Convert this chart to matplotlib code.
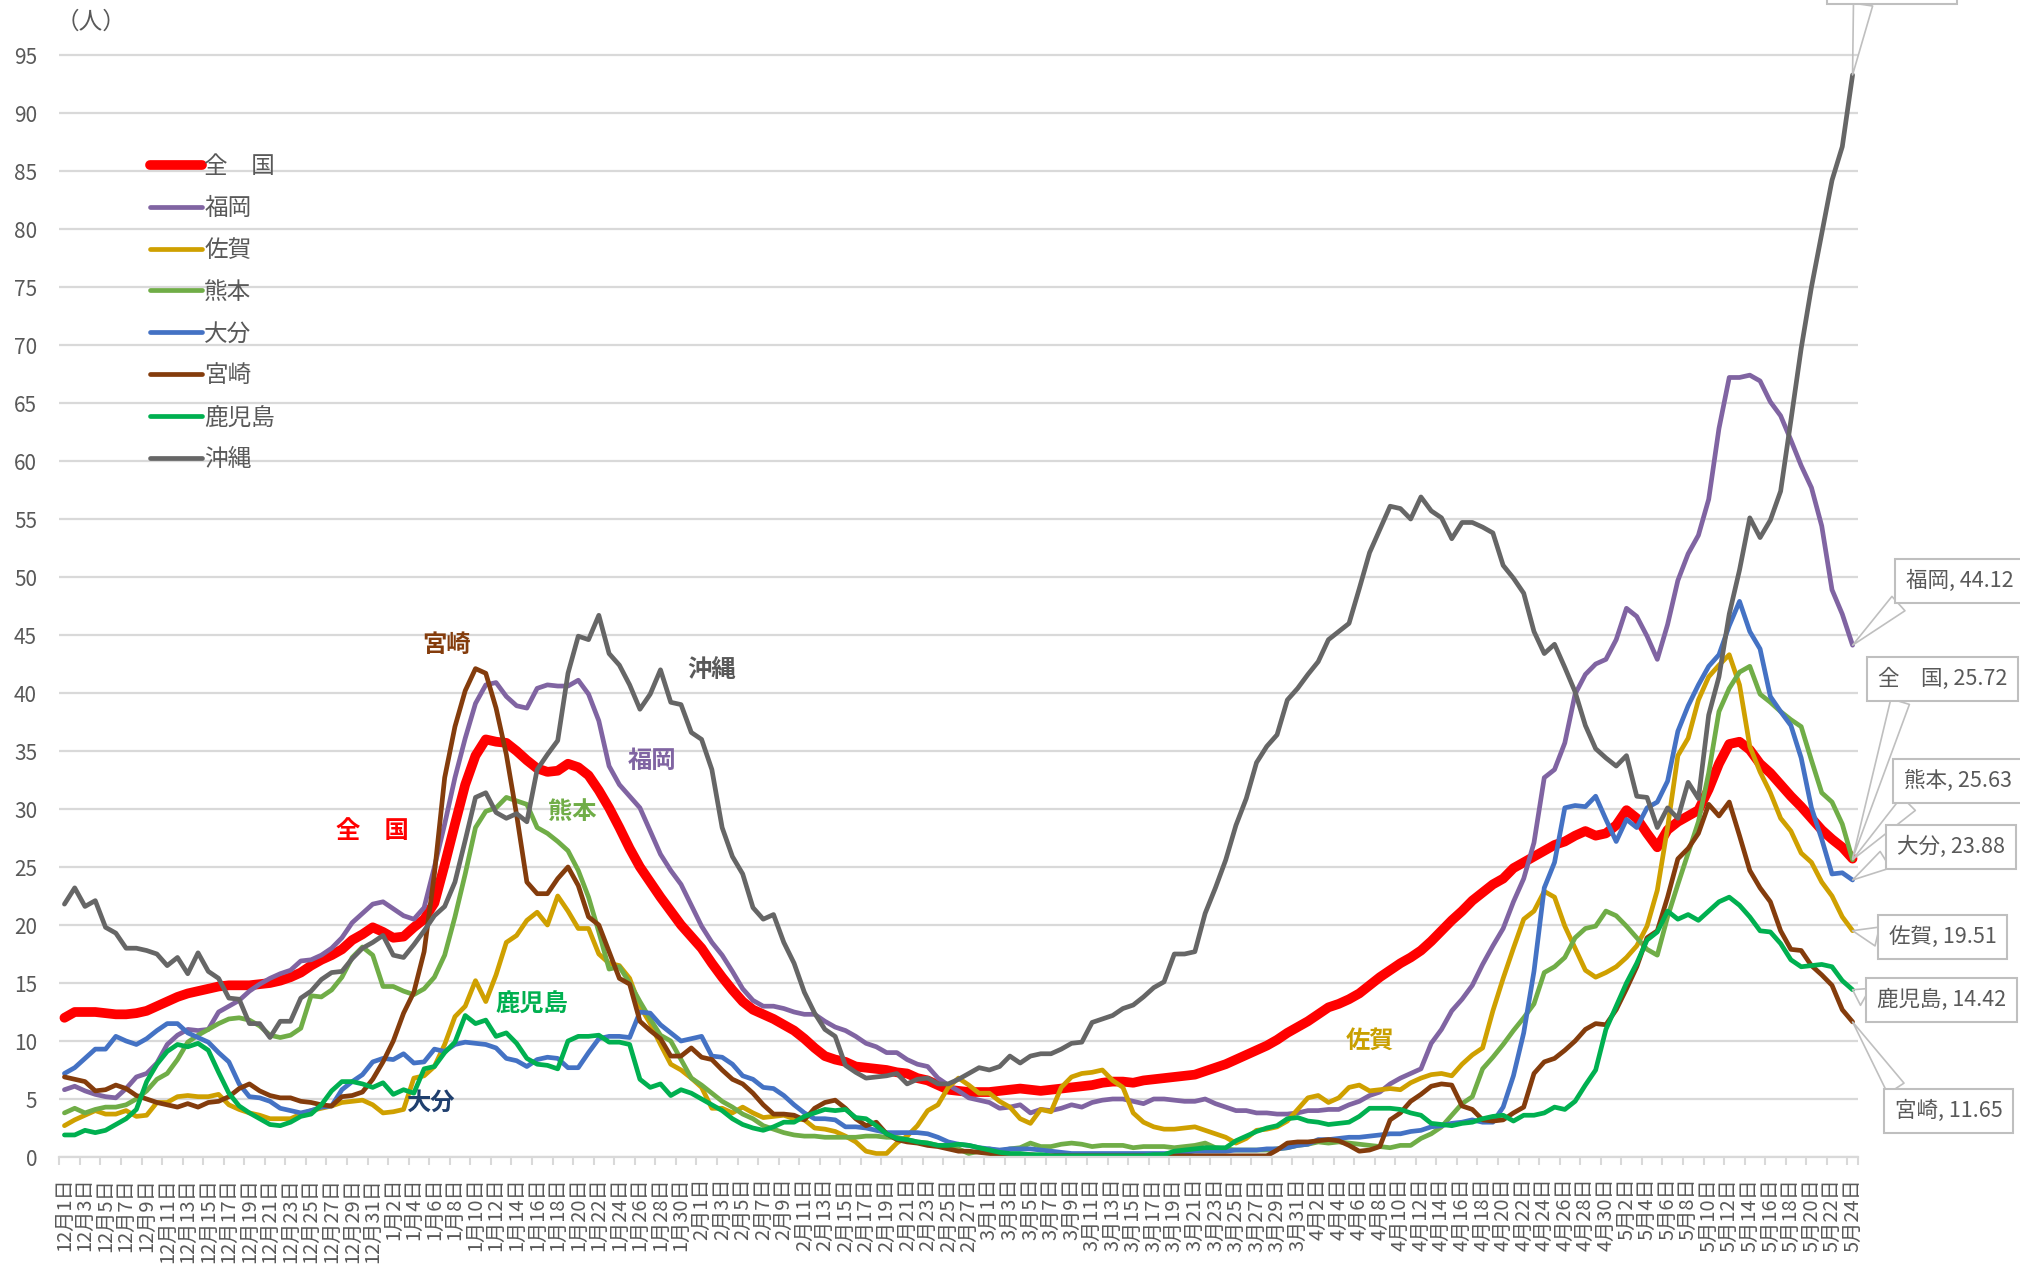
import numpy as np
import pandas as pd
import matplotlib
matplotlib.use('Agg')
import matplotlib.pyplot as plt

plt.rcParams['font.family'] = ['Noto Sans CJK JP', 'DejaVu Sans']

# ---------------- data ----------------
dates = pd.date_range('2020-12-01', '2021-05-24', freq='D')
date_labels = [f"{d.month}月{d.day}日" for d in dates]

names = ['全　国', '福岡', '佐賀', '熊本', '大分', '宮崎', '鹿児島', '沖縄']

zenkoku = [
    12.0, 12.5, 12.5, 12.5, 12.4, 12.3, 12.3, 12.4, 12.6, 13.0,
    13.4, 13.8, 14.1, 14.3, 14.5, 14.7, 14.8, 14.8, 14.8, 14.9,
    15.0, 15.2, 15.5, 15.9, 16.5, 17.0, 17.4, 17.9, 18.7, 19.2,
    19.8, 19.4, 18.9, 19.0, 19.8, 20.5, 21.9, 25.2, 28.7, 32.1,
    34.6, 36.0, 35.8, 35.7, 35.0, 34.2, 33.5, 33.2, 33.3, 33.9,
    33.6, 32.9, 31.6, 30.1, 28.4, 26.6, 25.0, 23.7, 22.4, 21.2,
    20.0, 19.0, 18.0, 16.7, 15.5, 14.4, 13.4, 12.7, 12.3, 11.9,
    11.4, 10.9, 10.2, 9.4, 8.7, 8.4, 8.2, 7.8, 7.7, 7.6,
    7.5, 7.3, 7.2, 6.8, 6.6, 6.2, 5.8, 5.7, 5.6, 5.6,
    5.6, 5.7, 5.8, 5.9, 5.8, 5.7, 5.8, 5.9, 6.0, 6.1,
    6.2, 6.4, 6.5, 6.5, 6.4, 6.6, 6.7, 6.8, 6.9, 7.0,
    7.1, 7.4, 7.7, 8.0, 8.4, 8.8, 9.2, 9.6, 10.1, 10.7,
    11.2, 11.7, 12.3, 12.9, 13.2, 13.6, 14.1, 14.8, 15.5, 16.1,
    16.7, 17.2, 17.8, 18.6, 19.5, 20.4, 21.2, 22.1, 22.8, 23.5,
    24.0, 24.9, 25.4, 25.9, 26.4, 26.9, 27.2, 27.7, 28.1, 27.7,
    27.9, 28.6, 29.9, 29.2, 27.9, 26.7, 28.2, 28.9, 29.4, 29.9,
    31.7, 33.9, 35.6, 35.8, 35.1, 33.9, 33.1, 32.1, 31.1, 30.2,
    29.2, 28.2, 27.4, 26.7, 25.72]

fukuoka = [
    5.8, 6.1, 5.7, 5.4, 5.2, 5.1, 5.9, 6.9, 7.2, 8.1,
    9.7, 10.5, 11.0, 10.9, 11.0, 12.5, 13.0, 13.5, 14.3, 14.9,
    15.4, 15.8, 16.1, 16.9, 17.0, 17.4, 18.0, 18.9, 20.2, 21.0,
    21.8, 22.0, 21.4, 20.8, 20.5, 21.5, 25.0, 28.7, 32.7, 36.1,
    39.1, 40.7, 40.9, 39.7, 38.9, 38.7, 40.4, 40.7, 40.6, 40.6,
    41.1, 39.9, 37.6, 33.7, 32.1, 31.1, 30.1, 28.1, 26.1, 24.7,
    23.5, 21.7, 19.9, 18.5, 17.4, 16.0, 14.5, 13.5, 13.0, 13.0,
    12.8, 12.5, 12.3, 12.3, 11.7, 11.2, 10.9, 10.4, 9.8, 9.5,
    9.0, 9.0, 8.4, 8.0, 7.8, 6.8, 6.2, 5.7, 5.1, 4.9,
    4.7, 4.2, 4.3, 4.5, 3.8, 4.1, 4.0, 4.2, 4.5, 4.3,
    4.7, 4.9, 5.0, 5.0, 4.8, 4.6, 5.0, 5.0, 4.9, 4.8,
    4.8, 5.0, 4.6, 4.3, 4.0, 4.0, 3.8, 3.8, 3.7, 3.7,
    3.8, 4.0, 4.0, 4.1, 4.1, 4.5, 4.8, 5.3, 5.6, 6.3,
    6.8, 7.2, 7.6, 9.8, 11.0, 12.6, 13.6, 14.8, 16.6, 18.2,
    19.7, 22.0, 24.0, 27.1, 32.7, 33.4, 35.7, 39.9, 41.6, 42.5,
    42.9, 44.6, 47.3, 46.6, 44.9, 42.9, 45.9, 49.7, 52.0, 53.6,
    56.7, 62.8, 67.2, 67.2, 67.4, 66.9, 65.1, 63.9, 61.8, 59.6,
    57.7, 54.4, 48.9, 46.8, 44.12]

saga = [
    2.7, 3.2, 3.6, 4.0, 3.7, 3.7, 4.0, 3.5, 3.6, 4.7,
    4.7, 5.2, 5.3, 5.2, 5.2, 5.4, 4.5, 4.1, 3.8, 3.6,
    3.3, 3.3, 3.3, 3.7, 4.0, 4.2, 4.4, 4.7, 4.8, 4.9,
    4.5, 3.8, 3.9, 4.1, 6.8, 7.0, 7.8, 9.7, 12.1, 13.0,
    15.2, 13.4, 15.7, 18.5, 19.1, 20.4, 21.1, 20.0, 22.5, 21.2,
    19.7, 19.7, 17.5, 16.7, 16.5, 15.4, 13.0, 11.5, 9.7, 8.0,
    7.5, 6.8, 6.0, 4.2, 4.2, 3.8, 4.3, 3.8, 3.4, 3.5,
    3.6, 3.3, 3.2, 2.5, 2.4, 2.2, 1.8, 1.3, 0.5, 0.3,
    0.3, 1.2, 1.8, 2.7, 4.0, 4.5, 6.0, 6.8, 6.2, 5.5,
    5.5, 4.8, 4.3, 3.3, 2.9, 4.1, 3.9, 6.0, 6.9, 7.2,
    7.3, 7.5, 6.6, 6.0, 3.8, 3.0, 2.6, 2.4, 2.4, 2.5,
    2.6, 2.3, 2.0, 1.7, 1.2, 1.6, 2.3, 2.4, 2.6, 3.1,
    4.1, 5.1, 5.3, 4.7, 5.1, 6.0, 6.2, 5.7, 5.8, 5.9,
    5.8, 6.4, 6.8, 7.1, 7.2, 7.0, 8.0, 8.8, 9.4, 12.6,
    15.4, 18.0, 20.5, 21.2, 22.9, 22.4, 19.9, 18.0, 16.1, 15.5,
    15.9, 16.4, 17.2, 18.2, 19.9, 23.0, 28.4, 34.6, 36.1, 39.4,
    41.4, 42.4, 43.3, 40.7, 35.4, 33.2, 31.4, 29.2, 28.1, 26.2,
    25.4, 23.7, 22.5, 20.7, 19.51]

kumamoto = [
    3.8, 4.2, 3.8, 4.1, 4.3, 4.3, 4.5, 5.0, 5.7, 6.7,
    7.2, 8.4, 9.9, 10.5, 11.0, 11.5, 11.9, 12.0, 11.8, 11.3,
    10.5, 10.3, 10.5, 11.1, 13.9, 13.8, 14.4, 15.5, 17.2, 18.1,
    17.4, 14.7, 14.7, 14.3, 14.0, 14.5, 15.5, 17.4, 20.7, 24.4,
    28.4, 29.8, 30.1, 31.0, 30.7, 30.4, 28.4, 27.9, 27.2, 26.4,
    24.7, 22.4, 19.4, 16.2, 16.4, 15.0, 13.4, 11.9, 10.5, 10.0,
    8.4, 6.8, 6.2, 5.5, 4.8, 4.3, 3.7, 3.3, 2.7, 2.4,
    2.1, 1.9, 1.8, 1.8, 1.7, 1.7, 1.7, 1.7, 1.8, 1.8,
    1.7, 1.7, 1.5, 1.3, 1.2, 1.0, 0.8, 0.7, 0.3, 0.5,
    0.7, 0.5, 0.7, 0.8, 1.2, 0.9, 0.9, 1.1, 1.2, 1.1,
    0.9, 1.0, 1.0, 1.0, 0.8, 0.9, 0.9, 0.9, 0.8, 0.9,
    1.0, 1.2, 0.8, 0.7, 0.6, 0.6, 0.6, 0.6, 0.7, 0.8,
    1.0, 1.1, 1.3, 1.2, 1.3, 1.2, 1.1, 1.0, 0.9, 0.8,
    1.0, 1.0, 1.6, 2.0, 2.6, 3.6, 4.6, 5.2, 7.6, 8.6,
    9.7, 10.9, 12.0, 13.2, 15.9, 16.4, 17.2, 18.9, 19.7, 19.9,
    21.2, 20.8, 19.9, 18.9, 17.9, 17.4, 20.7, 23.5, 26.2, 28.9,
    33.1, 38.4, 40.4, 41.8, 42.3, 39.9, 39.2, 38.4, 37.7, 37.1,
    34.2, 31.4, 30.6, 28.7, 25.63]

oita = [
    7.2, 7.7, 8.5, 9.3, 9.3, 10.4, 10.0, 9.7, 10.2, 10.9,
    11.5, 11.5, 10.7, 10.3, 9.9, 9.0, 8.2, 6.3, 5.2, 5.1,
    4.8, 4.2, 4.0, 3.8, 4.0, 4.3, 4.4, 5.8, 6.5, 7.1,
    8.2, 8.5, 8.4, 8.9, 8.1, 8.2, 9.3, 9.1, 9.7, 9.9,
    9.8, 9.7, 9.4, 8.5, 8.3, 7.8, 8.4, 8.6, 8.5, 7.7,
    7.7, 9.0, 10.2, 10.4, 10.4, 10.3, 12.5, 12.4, 11.4, 10.7,
    10.0, 10.2, 10.4, 8.7, 8.6, 8.0, 7.0, 6.7, 6.0, 5.9,
    5.3, 4.5, 3.8, 3.3, 3.3, 3.2, 2.6, 2.6, 2.5, 2.3,
    2.1, 2.1, 2.1, 2.1, 2.0, 1.7, 1.3, 1.1, 1.0, 0.8,
    0.7, 0.6, 0.7, 0.7, 0.7, 0.6, 0.5, 0.4, 0.3, 0.3,
    0.3, 0.3, 0.3, 0.3, 0.3, 0.3, 0.3, 0.3, 0.3, 0.4,
    0.5, 0.5, 0.5, 0.5, 0.6, 0.6, 0.6, 0.7, 0.7, 0.8,
    1.0, 1.1, 1.5, 1.5, 1.6, 1.7, 1.7, 1.8, 1.9, 2.0,
    2.0, 2.2, 2.3, 2.6, 2.7, 2.9, 3.0, 3.2, 3.0, 3.0,
    4.3, 7.0, 10.7, 16.0, 23.2, 25.4, 30.1, 30.3, 30.2, 31.1,
    29.1, 27.2, 29.1, 28.4, 30.1, 30.6, 32.4, 36.7, 38.9, 40.7,
    42.3, 43.3, 45.8, 47.9, 45.3, 43.8, 39.7, 38.4, 37.2, 34.4,
    30.1, 27.4, 24.4, 24.5, 23.88]

miyazaki = [
    6.9, 6.7, 6.5, 5.7, 5.8, 6.2, 5.9, 5.3, 5.0, 4.7,
    4.5, 4.3, 4.6, 4.3, 4.7, 4.8, 5.2, 5.9, 6.3, 5.7,
    5.3, 5.1, 5.1, 4.8, 4.7, 4.5, 4.4, 5.2, 5.3, 5.6,
    6.7, 8.2, 10.0, 12.4, 14.2, 17.7, 24.4, 32.7, 37.1, 40.2,
    42.1, 41.7, 38.7, 34.7, 29.5, 23.7, 22.7, 22.7, 24.0, 25.0,
    23.4, 20.7, 20.0, 17.7, 15.4, 14.9, 11.7, 10.9, 10.2, 8.7,
    8.7, 9.4, 8.6, 8.4, 7.5, 6.7, 6.3, 5.5, 4.5, 3.7,
    3.7, 3.6, 3.2, 4.2, 4.7, 4.9, 4.2, 3.3, 2.7, 3.0,
    2.0, 1.5, 1.3, 1.2, 1.0, 0.9, 0.7, 0.5, 0.5, 0.4,
    0.3, 0.2, 0.2, 0.2, 0.2, 0.1, 0.1, 0.1, 0.1, 0.1,
    0.1, 0.1, 0.1, 0.1, 0.1, 0.1, 0.1, 0.1, 0.1, 0.1,
    0.1, 0.1, 0.1, 0.1, 0.1, 0.1, 0.1, 0.1, 0.6, 1.2,
    1.3, 1.3, 1.4, 1.5, 1.4, 1.0, 0.5, 0.6, 0.9, 3.2,
    3.8, 4.8, 5.4, 6.1, 6.3, 6.2, 4.4, 4.1, 3.2, 3.1,
    3.2, 3.8, 4.3, 7.2, 8.2, 8.5, 9.2, 10.0, 11.0, 11.5,
    11.4, 12.7, 14.5, 16.4, 18.9, 19.5, 22.4, 25.7, 26.6, 27.9,
    30.4, 29.4, 30.6, 27.7, 24.7, 23.2, 22.0, 19.5, 17.9, 17.8,
    16.5, 15.7, 14.8, 12.7, 11.65]

kagoshima = [
    1.9, 1.9, 2.3, 2.1, 2.3, 2.8, 3.3, 4.1, 6.5, 8.0,
    9.1, 9.7, 9.5, 9.8, 9.2, 7.3, 5.5, 4.4, 3.8, 3.3,
    2.8, 2.7, 3.0, 3.5, 3.7, 4.5, 5.7, 6.5, 6.5, 6.3,
    6.0, 6.4, 5.4, 5.8, 5.5, 7.6, 7.8, 9.0, 9.9, 12.2,
    11.5, 11.8, 10.4, 10.7, 9.8, 8.5, 8.0, 7.9, 7.6, 10.0,
    10.4, 10.4, 10.5, 9.9, 9.9, 9.7, 6.7, 6.0, 6.3, 5.3,
    5.8, 5.5, 5.0, 4.5, 4.0, 3.3, 2.8, 2.5, 2.3, 2.6,
    3.0, 3.0, 3.5, 3.8, 4.1, 4.0, 4.1, 3.4, 3.3, 2.7,
    2.0, 1.6, 1.5, 1.3, 1.2, 1.0, 1.0, 1.1, 1.0, 0.8,
    0.6, 0.4, 0.3, 0.3, 0.2, 0.2, 0.1, 0.1, 0.1, 0.1,
    0.1, 0.1, 0.1, 0.1, 0.1, 0.1, 0.2, 0.2, 0.5, 0.6,
    0.7, 0.8, 0.8, 0.8, 1.4, 1.8, 2.2, 2.5, 2.7, 3.3,
    3.4, 3.1, 3.0, 2.8, 2.9, 3.0, 3.5, 4.2, 4.2, 4.2,
    4.1, 3.8, 3.6, 2.9, 2.8, 2.7, 2.9, 3.0, 3.3, 3.5,
    3.6, 3.1, 3.6, 3.6, 3.8, 4.3, 4.1, 4.8, 6.2, 7.5,
    11.0, 13.0, 15.0, 16.7, 18.7, 19.4, 21.2, 20.5, 20.9, 20.4,
    21.2, 22.0, 22.4, 21.7, 20.7, 19.5, 19.4, 18.4, 17.0, 16.4,
    16.5, 16.6, 16.4, 15.2, 14.42]

okinawa = [
    21.8, 23.2, 21.6, 22.1, 19.8, 19.3, 18.0, 18.0, 17.8, 17.5,
    16.5, 17.2, 15.8, 17.6, 16.0, 15.4, 13.7, 13.6, 11.5, 11.5,
    10.3, 11.7, 11.7, 13.7, 14.3, 15.3, 15.9, 16.0, 17.1, 18.0,
    18.5, 19.1, 17.4, 17.2, 18.3, 19.5, 20.8, 21.6, 23.7, 27.3,
    31.0, 31.4, 29.7, 29.2, 29.6, 28.9, 33.4, 34.7, 35.9, 41.7,
    44.9, 44.6, 46.7, 43.4, 42.4, 40.7, 38.6, 39.9, 42.0, 39.2,
    39.0, 36.6, 36.0, 33.4, 28.4, 25.9, 24.4, 21.5, 20.5, 20.9,
    18.5, 16.7, 14.2, 12.4, 11.0, 10.4, 7.9, 7.3, 6.8, 6.9,
    7.0, 7.2, 6.3, 6.7, 6.8, 6.3, 6.3, 6.7, 7.2, 7.7,
    7.5, 7.8, 8.7, 8.1, 8.7, 8.9, 8.9, 9.3, 9.8, 9.9,
    11.6, 11.9, 12.2, 12.8, 13.1, 13.8, 14.6, 15.1, 17.5, 17.5,
    17.7, 21.0, 23.2, 25.6, 28.6, 30.9, 34.0, 35.4, 36.4, 39.4,
    40.4, 41.6, 42.7, 44.6, 45.3, 46.0, 49.0, 52.1, 54.1, 56.1,
    55.9, 55.0, 56.9, 55.7, 55.1, 53.3, 54.7, 54.7, 54.3, 53.8,
    51.0, 49.9, 48.6, 45.3, 43.4, 44.2, 42.2, 40.1, 37.2, 35.2,
    34.4, 33.7, 34.6, 31.1, 31.0, 28.4, 30.1, 29.2, 32.3, 30.9,
    38.1, 41.4, 46.8, 50.6, 55.1, 53.4, 54.9, 57.4, 63.5, 69.7,
    75.0, 79.6, 84.2, 87.1, 93.28]

series = [zenkoku, fukuoka, saga, kumamoto, oita, miyazaki, kagoshima, okinawa]
colors = ['#FF0000', '#8064A2', '#CFA000', '#70AD47', '#4472C4', '#843C0C', '#00B050', '#666666']
widths = [7.0, 3.4, 3.4, 3.4, 3.4, 3.4, 3.4, 3.4]

# ---------------- figure ----------------
W, H = 2020, 1267
fig = plt.figure(figsize=(W / 100, H / 100), dpi=100)
X0, X1 = 59.3, 1857.7
YB = 1157.0
PX_PER_UNIT = 11.6
ax = fig.add_axes([X0 / W, (H - YB) / H, (X1 - X0) / W, YB / H])

n = len(dates)
xs = np.arange(n)
ax.set_xlim(-0.5, n - 0.5)
ax.set_ylim(0, YB / PX_PER_UNIT)

grey_txt = '#595959'
grid_c = '#D9D9D9'

ax.set_yticks(np.arange(0, 100, 5))
ax.yaxis.grid(True, color=grid_c, lw=1.6, zorder=0)
ax.set_axisbelow(True)
ax.tick_params(axis='y', length=0, pad=16, labelsize=15, labelcolor=grey_txt)

ax.set_xticks(xs[::2])
ax.set_xticklabels(date_labels[::2], rotation=90, fontsize=14.5, color=grey_txt)
ax.set_xticks(list(np.arange(-0.5, n, 2)) + [n - 0.5], minor=True)
ax.tick_params(axis='x', which='major', length=0, pad=15)
ax.tick_params(axis='x', which='minor', length=6, width=1.5, color=grid_c)

for s in ['top', 'right', 'left']:
    ax.spines[s].set_visible(False)
ax.spines['bottom'].set_color(grid_c)
ax.spines['bottom'].set_linewidth(1.6)

handles = []
for i, (name, vals, c, lw) in enumerate(zip(names, series, colors, widths)):
    h, = ax.plot(xs, vals, color=c, lw=lw, solid_joinstyle='round',
                 solid_capstyle='round', zorder=2 + i * 0.01, label=name)
    handles.append(h)

leg = ax.legend(handles=handles, loc='upper left',
                bbox_to_anchor=(150 / W, 1 - 155 / H), bbox_transform=fig.transFigure,
                frameon=False, fontsize=17, handlelength=2.2, handletextpad=0.1,
                labelspacing=0.80, borderpad=0, borderaxespad=0)
for t in leg.get_texts():
    t.set_color(grey_txt)

fig.text(56 / W, 1 - 22 / H, '（人）', fontsize=17, color=grey_txt, ha='left', va='center')

# inline series labels
inline = [
    ('宮崎', 446, 645, colors[5]),
    ('沖縄', 712, 670, '#595959'),
    ('福岡', 652, 761, colors[1]),
    ('全　国', 372, 831, colors[0]),
    ('熊本', 572, 812, colors[3]),
    ('鹿児島', 532, 1005, colors[6]),
    ('佐賀', 1370, 1041, '#C9A000'),
    ('大分', 430, 1103, '#1F3F6E'),
]
for txt, px, py, c in inline:
    fig.text(px / W, 1 - py / H, txt, fontsize=17.5, fontweight='bold', color=c,
             ha='center', va='center')

# end-value callouts
callouts = [
    # series index, box left px, box centre y (from top), relpos of wedge base
    (7, 1827, -18, (0.25, 0.0)),
    (1, 1895, 581, (0.05, 0.0)),
    (0, 1867, 679, (0.2, 0.0)),
    (3, 1893, 781, (0.15, 0.0)),
    (4, 1886, 847, (0.0, 0.25)),
    (2, 1878, 937, (0.0, 0.4)),
    (6, 1866, 1000, (0.0, 0.35)),
    (5, 1884, 1111, (0.08, 1.0)),
]
FS_CALL = 15.5
PAD = 0.5
pad_px = PAD * FS_CALL * 100 / 72
for idx, bx, cy, rp in callouts:
    val = series[idx][-1]
    ax.annotate(f"{names[idx]}, {val:.2f}", xy=(n - 1, val), xycoords='data',
                xytext=(bx + pad_px, H - cy), textcoords='figure pixels',
                ha='left', va='center', fontsize=FS_CALL, color=grey_txt,
                bbox=dict(boxstyle=f'square,pad={PAD}', fc='white', ec='#BFBFBF', lw=1.5),
                arrowprops=dict(arrowstyle='wedge,tail_width=0.9,shrink_factor=0.5',
                                fc='none', ec='#BFBFBF', lw=1.2, relpos=rp,
                                shrinkA=0, shrinkB=0),
                annotation_clip=False, zorder=5)

fig.savefig('out.png', dpi=100, facecolor='white')
